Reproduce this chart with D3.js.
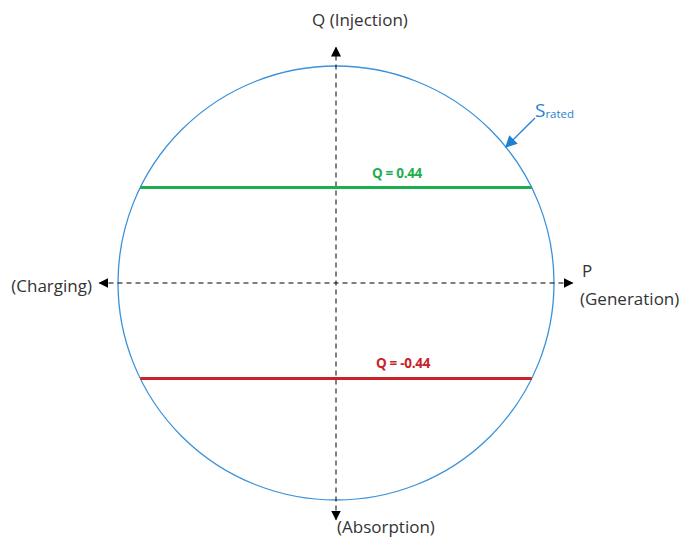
<!DOCTYPE html>
<html>
<head>
<meta charset="utf-8">
<script src="https://cdn.jsdelivr.net/npm/d3@7/dist/d3.min.js"></script>
<style>
  body { margin: 0; background: #fff; }
  text { font-family: "Open Sans", "Noto Sans", sans-serif; }
</style>
</head>
<body>
<div id="vis"></div>
<script>
// PQ capability circle of the storage unit
var width = 687
var height = 538

// data
var qLimits = [0.44, -0.44]
var qLabels = ["Q = 0.44", "Q = -0.44"]
var qColors = ["#1fae4f", "#c9222a"]
var sRated = 1
var axisLabels = ["Q (Injection)", "(Absorption)", "(Charging)", "P", "(Generation)"]

var x = d3.scaleLinear().domain([-1, 1]).range([118, 554])
var y = d3.scaleLinear().domain([-1, 1]).range([500, 66])

var svg = d3.select("#vis")
        .append("svg")
        .attr("width", width)
        .attr("height", height)

var defs = svg.append("defs")
defs.append("marker")
    .attr("id", "arr")
    .attr("viewBox", "0 0 10 10")
    .attr("refX", 9).attr("refY", 5)
    .attr("markerWidth", 10).attr("markerHeight", 10)
    .attr("markerUnits", "userSpaceOnUse")
    .attr("orient", "auto-start-reverse")
    .append("path")
    .attr("d", "M0,0 L10,5 L0,10 Z")
    .attr("fill", "#000")
defs.append("marker")
    .attr("id", "arrBlue")
    .attr("viewBox", "0 0 10 10")
    .attr("refX", 9).attr("refY", 5)
    .attr("markerWidth", 12).attr("markerHeight", 12)
    .attr("markerUnits", "userSpaceOnUse")
    .attr("orient", "auto")
    .append("path")
    .attr("d", "M0,0 L10,5 L0,10 Z")
    .attr("fill", "#1f7fd0")

// the circle
svg.append("ellipse")
    .attr("cx", x(0)).attr("cy", y(0))
    .attr("rx", x(sRated) - x(0))
    .attr("ry", y(0) - y(sRated))
    .attr("fill", "none")
    .attr("stroke", "#3c92d8")
    .attr("stroke-width", 1.3)

// dashed axes
svg.append("line")
    .attr("x1", x(0)).attr("x2", x(0))
    .attr("y1", y(-1.09)).attr("y2", y(1.085))
    .attr("stroke", "#000").attr("stroke-width", 1)
    .attr("stroke-dasharray", "5,4")
    .attr("marker-start", "url(#arr)")
    .attr("marker-end", "url(#arr)")
svg.append("line")
    .attr("x1", x(-1.085)).attr("x2", x(1.085))
    .attr("y1", y(0)).attr("y2", y(0))
    .attr("stroke", "#000").attr("stroke-width", 1)
    .attr("stroke-dasharray", "5,4")
    .attr("marker-start", "url(#arr)")
    .attr("marker-end", "url(#arr)")

// Q limit chords
var chords = svg.selectAll(".chord")
    .data(qLimits)
    .enter()
    .append("g")

chords.append("line")
    .attr("x1", function(d) { return x(-Math.sqrt(1 - d*d)); })
    .attr("x2", function(d) { return x(Math.sqrt(1 - d*d)); })
    .attr("y1", function(d) { return y(d); })
    .attr("y2", function(d) { return y(d); })
    .attr("stroke", function(d, i) { return qColors[i]; })
    .attr("stroke-width", 3)

chords.append("text")
    .text(function(d, i) { return qLabels[i]; })
    .attr("x", function(d, i) { return i === 0 ? 397 : 403; })
    .attr("y", function(d) { return y(d) - 10; })
    .attr("text-anchor", "middle")
    .attr("font-size", 13.5)
    .attr("font-weight", "bold")
    .attr("letter-spacing", -0.3)
    .attr("fill", function(d, i) { return qColors[i]; })

// axis labels
var fs = 17
svg.append("text").text(axisLabels[0])
    .attr("x", 312).attr("y", 26).attr("font-size", fs).attr("fill", "#333")
svg.append("text").text(axisLabels[1])
    .attr("x", 337).attr("y", 533).attr("font-size", fs).attr("fill", "#333")
svg.append("text").text(axisLabels[2])
    .attr("x", 92).attr("y", 292).attr("text-anchor", "end").attr("font-size", fs).attr("fill", "#333")
svg.append("text").text(axisLabels[3])
    .attr("x", 582).attr("y", 277).attr("font-size", fs).attr("fill", "#333")
svg.append("text").text(axisLabels[4])
    .attr("x", 580).attr("y", 305).attr("font-size", fs).attr("fill", "#333")

// S rated annotation, arrow points at the circle
var a = Math.asin((y(0) - 147) / (y(0) - y(sRated)))
svg.append("line")
    .attr("x1", 535).attr("y1", 118)
    .attr("x2", x(Math.cos(a) * sRated))
    .attr("y2", y(Math.sin(a) * sRated))
    .attr("stroke", "#1f7fd0").attr("stroke-width", 1.3)
    .attr("marker-end", "url(#arrBlue)")
var st = svg.append("text").attr("x", 535).attr("y", 117).attr("fill", "#1f7fd0")
st.append("tspan").text("S").attr("font-size", 19)
st.append("tspan").text("rated").attr("font-size", 11.5).attr("dy", 1)
</script>
</body>
</html>
